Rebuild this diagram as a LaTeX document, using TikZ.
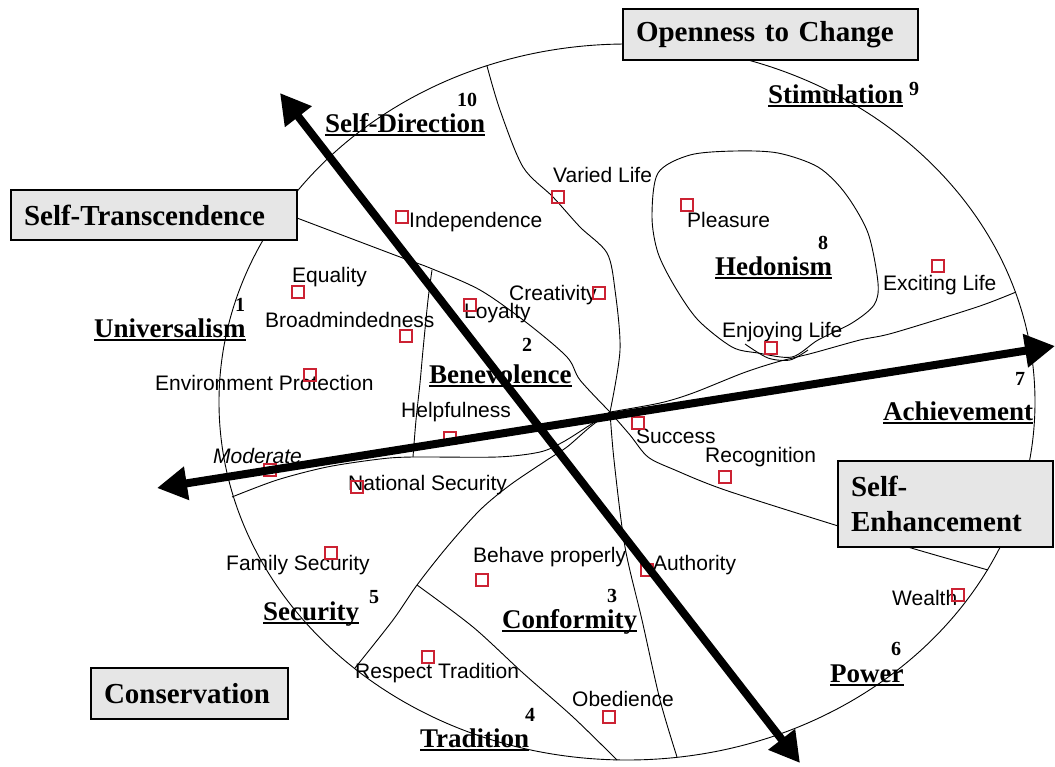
\documentclass[tikz,border=0pt]{standalone}
\usepackage{fontspec}
\setmainfont{Liberation Serif}
\newfontfamily\arialf{Liberation Sans}
\usetikzlibrary{arrows.meta}
\definecolor{sqred}{RGB}{204,34,51}
\definecolor{boxgray}{RGB}{230,230,230}
\newcommand\ulab[1]{\setbox0\hbox{#1}\rlap{\rule[-3.5pt]{\wd0}{1.8pt}}\box0}
\begin{document}
\begin{tikzpicture}[x=1pt,y=-1pt,
  item/.style={anchor=west,inner sep=0pt,font=\arialf\fontsize{21}{24}\selectfont,text height=15pt,text depth=4pt},
  sqbox/.style={draw=sqred,line width=1.1pt,minimum size=12pt,inner sep=0pt},
  cat/.style={anchor=base west,inner sep=0pt,font=\bfseries\fontsize{27}{30}\selectfont},
  num/.style={inner sep=0pt,font=\bfseries\fontsize{20}{22}\selectfont},
  bound/.style={line width=0.9pt,black},
  bigbox/.style={draw,line width=2.5pt,fill=boxgray,font=\bfseries\fontsize{29}{35}\selectfont,align=left,inner xsep=13pt,inner ysep=0pt},
  bigarrow/.style={line width=8pt,{Triangle[length=30pt,width=32pt]}-{Triangle[length=30pt,width=32pt]}}
]
\useasboundingbox (0,0) rectangle (1055,766);

% outer ellipse
\draw[bound] (627,402) ellipse [x radius=408pt, y radius=358pt];

% junction
\coordinate (c) at (610,412);

% boundaries
\draw[bound] plot[smooth] coordinates {(297,218) (400,257) (430,268) (480,290) (527,323) (567,357) (580,380) (610,412)};
\draw[bound] plot[smooth] coordinates {(432,270) (428,300) (423,350) (420,383) (416,420) (413,457)};
\draw[bound] plot[smooth] coordinates {(232,497) (277,480) (327,467) (380,459) (413,457) (497,457) (540,452) (563,442) (590,425) (610,412)};
\draw[bound] plot[smooth] coordinates {(610,412) (590,427) (567,447) (547,460) (510,485) (480,510) (447,547) (417,585) (393,620) (355,668)};
\draw[bound] plot[smooth] coordinates {(417,585) (473,627) (523,673) (573,717) (617,760)};
\draw[bound] plot[smooth] coordinates {(610,412) (614,460) (625,547) (642,620) (660,700) (677,757)};
\draw[bound] plot[smooth] coordinates {(610,412) (630,435) (648,457) (675,470) (725,490) (835,525) (918,550) (988,570)};
\draw[bound] plot[smooth] coordinates {(487,66) (500,110) (523,167) (553,197) (580,227) (607,253) (615,290) (620,350) (610,412)};
\draw[bound] plot[smooth] coordinates {(1016,292) (977,307) (893,333) (860,340) (813,353) (777,362) (743,373) (693,393) (660,403) (610,412)};
% hedonism
\draw[bound] plot[smooth cycle] coordinates {(658,173) (690,155) (735,151) (778,153) (818,167) (845,193) (868,233) (878,283) (874,305) (852,323) (818,340) (792,357) (758,353) (732,347) (698,320) (675,287) (658,253) (652,217)};
\draw[bound] plot[smooth] coordinates {(745,344) (768,358) (790,360) (808,350)};

% boxes
\node[bigbox,minimum width=286pt,minimum height=50pt,text width=260pt] (b-st) at (154,215) {Self-Transcendence};
\node[bigbox,minimum width=295pt,minimum height=51pt,text width=269pt] (b-oc) at (770.5,34.5) {Openness to Change};
\node[bigbox,minimum width=197pt,minimum height=51pt,text width=171pt] (b-co) at (189.5,693.5) {Conservation};
\node[bigbox,minimum width=215pt,minimum height=86pt,text width=189pt] (b-se) at (945.5,504) {Self-\\Enhancement};

% category labels
\node[cat] (c-sd) at (325,132) {\ulab{Self-Direction}};
\node[num] (n-sd) at (467,100) {10};
\node[cat] (c-un) at (94,337) {\ulab{Universalism}};
\node[num] (n-un) at (240,305) {1};
\node[cat] (c-be) at (429,383) {\ulab{Benevolence}};
\node[num] (n-be) at (527,345) {2};
\node[cat] (c-st) at (768,103) {\ulab{Stimulation}};
\node[num] (n-st) at (914,89) {9};
\node[cat] (c-he) at (715,275) {\ulab{Hedonism}};
\node[num] (n-he) at (823,243) {8};
\node[cat] (c-ac) at (883,420) {\ulab{Achievement}};
\node[num] (n-ac) at (1020,379) {7};
\node[cat] (c-po) at (830,682) {\ulab{Power}};
\node[num] (n-po) at (896,649) {6};
\node[cat] (c-cf) at (502,628) {\ulab{Conformity}};
\node[num] (n-cf) at (612,596) {3};
\node[cat] (c-tr) at (420,747) {\ulab{Tradition}};
\node[num] (n-tr) at (530,715) {4};
\node[cat] (c-se) at (263,620) {\ulab{Security}};
\node[num] (n-se) at (374,597) {5};

% items
\node[item] (t-indep) at (409,222) {Independence};       \node[sqbox] (s-indep) at (402,217) {};
\node[item] (t-varied) at (553,177) {Varied Life};       \node[sqbox] (s-varied) at (558,197) {};
\node[item] (t-creat) at (509,295) {Creativity};         \node[sqbox] (s-creat) at (599,293) {};
\node[item] (t-loyal) at (464,313) {Loyalty};            \node[sqbox] (s-loyal) at (470,305) {};
\node[item] (t-pleas) at (687,222) {Pleasure};           \node[sqbox] (s-pleas) at (687,205) {};
\node[item] (t-excit) at (883,285) {Exciting Life};      \node[sqbox] (s-excit) at (938,266) {};
\node[item] (t-enjoy) at (722,332) {Enjoying Life};      \node[sqbox] (s-enjoy) at (771,348) {};
\node[item] (t-equal) at (292,277) {Equality};           \node[sqbox] (s-equal) at (298,292) {};
\node[item] (t-broad) at (265,322) {Broadmindedness};    \node[sqbox] (s-broad) at (406,336) {};
\node[item] (t-envir) at (155,385) {Environment Protection}; \node[sqbox] (s-envir) at (310,375) {};
\node[item,font=\arialf\itshape\fontsize{21}{24}\selectfont] (t-moder) at (213,458) {Moderate}; \node[sqbox] (s-moder) at (270,470) {};
\node[item] (t-natsec) at (348,485) {National Security}; \node[sqbox] (s-natsec) at (357,487) {};
\node[item] (t-help) at (401,412) {Helpfulness};         \node[sqbox] (s-help) at (450,438) {};
\node[item] (t-succ) at (636,438) {Success};             \node[sqbox] (s-succ) at (638,423) {};
\node[item] (t-recog) at (705,457) {Recognition};        \node[sqbox] (s-recog) at (725,477) {};
\node[item] (t-auth) at (653,565) {Authority};           \node[sqbox] (s-auth) at (647,570) {};
\node[item] (t-behave) at (473,557) {Behave properly};   \node[sqbox] (s-behave) at (482,580) {};
\node[item] (t-famsec) at (226,565) {Family Security};   \node[sqbox] (s-famsec) at (331,553) {};
\node[item] (t-resp) at (355,673) {Respect Tradition};   \node[sqbox] (s-resp) at (428,657) {};
\node[item] (t-obed) at (572,701) {Obedience};           \node[sqbox] (s-obed) at (609,717) {};
\node[item] (t-wealth) at (892,600) {Wealth};            \node[sqbox] (s-wealth) at (958,595) {};

% axes
\coordinate (a-tl) at (280,93);
\coordinate (a-br) at (800,763);
\coordinate (a-l) at (157,488);
\coordinate (a-r) at (1055,346);
\draw[bigarrow] (a-tl) -- (a-br);
\draw[bigarrow] (a-l) -- (a-r);
\end{tikzpicture}
\end{document}
